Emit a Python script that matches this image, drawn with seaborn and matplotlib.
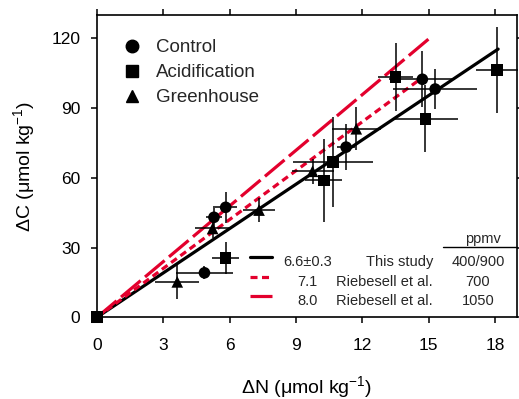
import matplotlib
matplotlib.use("Agg")
import matplotlib.pyplot as plt
from matplotlib.lines import Line2D
import numpy as np
import pandas as pd
import seaborn as sns

# delta N / delta C with +- errors, per treatment
ctrl_dn = [0, 4.86, 5.29, 5.82, 11.27, 14.72, 15.30]
ctrl_dc = [0, 19.1, 43.0, 47.3, 73.2, 102.4, 98.2]
ctrl_dn_err = [0, 1.3, 0.35, 0.5, 0.4, 1.5, 1.9]
ctrl_dc_err = [0, 2.8, 4.9, 6.6, 10.0, 12.0, 8.8]

acid_dn = [0, 5.82, 10.26, 10.67, 13.51, 14.86, 18.11]
acid_dc = [0, 25.6, 58.9, 66.9, 103.4, 85.4, 106.5]
acid_dn_err = [0, 0.62, 0.83, 1.8, 0.8, 1.46, 0.95]
acid_dc_err = [0, 6.8, 18.0, 19.4, 14.7, 14.5, 18.5]

green_dn = [0, 3.63, 5.23, 7.33, 9.75, 11.73]
green_dc = [0, 15.2, 38.2, 46.1, 62.8, 81.1]
green_dn_err = [0, 1.0, 0.8, 0.72, 0.95, 1.1]
green_dc_err = [0, 7.3, 4.3, 5.2, 5.4, 9.2]

treatments = ["Control", "Acidification", "Greenhouse"]

# C:N lines (start at origin)
slope_labels = ["6.6\u00b10.3", "7.1", "8.0"]
line_end_dn = [18.15, 14.70, 15.10]
line_end_dc = [115.4, 103.0, 120.5]
line_source = ["This study", "Riebesell et al.", "Riebesell et al."]
line_ppmv = ["400/900", "700", "1050"]

red = "#e3002d"

sns.set_theme(style="ticks")
plt.rcParams["font.family"] = ["Liberation Sans", "DejaVu Sans"]
plt.rcParams["mathtext.fontset"] = "custom"
plt.rcParams["mathtext.rm"] = "Liberation Sans"
plt.rcParams["mathtext.it"] = "Liberation Sans:italic"

fig = plt.figure(figsize=(5.19, 3.99), dpi=100)
ax = fig.add_axes([0.187, 0.205, 0.809, 0.757])

line_styles = [
    dict(color="black", linestyle="-"),
    dict(color=red, linestyle=(0, (2.2, 1.4))),
    dict(color=red, linestyle=(0, (8, 1.8))),
]
line_handles = []
for i in range(3):
    ln = pd.DataFrame({"dn": [0, line_end_dn[i]], "dc": [0, line_end_dc[i]]})
    sns.lineplot(data=ln, x="dn", y="dc", ax=ax, lw=2.3, zorder=2,
                 **line_styles[i])
    line_handles.append(Line2D([], [], lw=2.3, **line_styles[i]))

points = pd.concat([
    pd.DataFrame({"dn": ctrl_dn, "dc": ctrl_dc, "xe": ctrl_dn_err,
                  "ye": ctrl_dc_err, "treatment": "Control"}),
    pd.DataFrame({"dn": acid_dn, "dc": acid_dc, "xe": acid_dn_err,
                  "ye": acid_dc_err, "treatment": "Acidification"}),
    pd.DataFrame({"dn": green_dn, "dc": green_dc, "xe": green_dn_err,
                  "ye": green_dc_err, "treatment": "Greenhouse"}),
])

ax.errorbar(points["dn"], points["dc"], xerr=points["xe"], yerr=points["ye"],
            fmt="none", ecolor="black", elinewidth=1.1, capsize=0,
            zorder=3, clip_on=False)

markers = {"Control": "o", "Acidification": "s", "Greenhouse": "^"}
sns.scatterplot(data=points, x="dn", y="dc", style="treatment",
                markers=markers, color="black", s=70, edgecolor="black",
                linewidth=0, ax=ax, zorder=4, clip_on=False, legend=False)

ax.set_xlim(0, 19)
ax.set_ylim(0, 130)
ax.set_xticks(np.arange(0, 19, 3))
ax.set_yticks(np.arange(0, 121, 30))
ax.tick_params(direction="out", length=4, width=1.1, labelsize=12.5,
               top=True, right=True, color="black", labelcolor="black")
ax.tick_params(axis="x", pad=11)
ax.tick_params(axis="y", pad=8)
for sp in ax.spines.values():
    sp.set_visible(True)
    sp.set_linewidth(1.2)
    sp.set_color("black")

ax.set_xlabel("\u0394N (\u03bcmol kg$^{-1}$)", fontsize=14, color="black",
              labelpad=15)
ax.set_ylabel("\u0394C (\u03bcmol kg$^{-1}$)", fontsize=14, color="black",
              labelpad=10)

# treatment legend
marker_handles = [Line2D([], [], marker=markers[t], color="black", lw=0,
                         markersize=9) for t in treatments]
leg1 = ax.legend(marker_handles, treatments, loc="upper left",
                 bbox_to_anchor=(0.042, 0.945), frameon=False, fontsize=13.5,
                 handlelength=1.0, handletextpad=0.8, labelspacing=0.42,
                 borderaxespad=0)
ax.add_artist(leg1)

# line legend, with source and ppmv columns next to it
leg2 = ax.legend(line_handles, [""] * 3, loc="lower left",
                 bbox_to_anchor=(0.35, 0.025), frameon=False, fontsize=10,
                 handlelength=1.6, handletextpad=0, labelspacing=0.4,
                 borderaxespad=0)

fig.canvas.draw()
inv = ax.transAxes.inverted()
for i, t in enumerate(leg2.get_texts()):
    bb = t.get_window_extent()
    y = inv.transform((0, (bb.y0 + bb.y1) / 2))[1]
    ax.text(0.502, y, slope_labels[i], ha="center", va="center",
            fontsize=10.5, transform=ax.transAxes)
    ax.text(0.80, y, line_source[i], ha="right", va="center",
            fontsize=10.5, transform=ax.transAxes)
    ax.text(0.907, y, line_ppmv[i], ha="center", va="center",
            fontsize=10.5, transform=ax.transAxes)
ax.text(0.919, 0.258, "ppmv", ha="center", va="center", fontsize=10.5,
        transform=ax.transAxes)
ax.plot([0.824, 1.0], [0.233, 0.233], color="black", lw=1.0,
        transform=ax.transAxes, clip_on=False)

fig.savefig("out.png", dpi=100)
